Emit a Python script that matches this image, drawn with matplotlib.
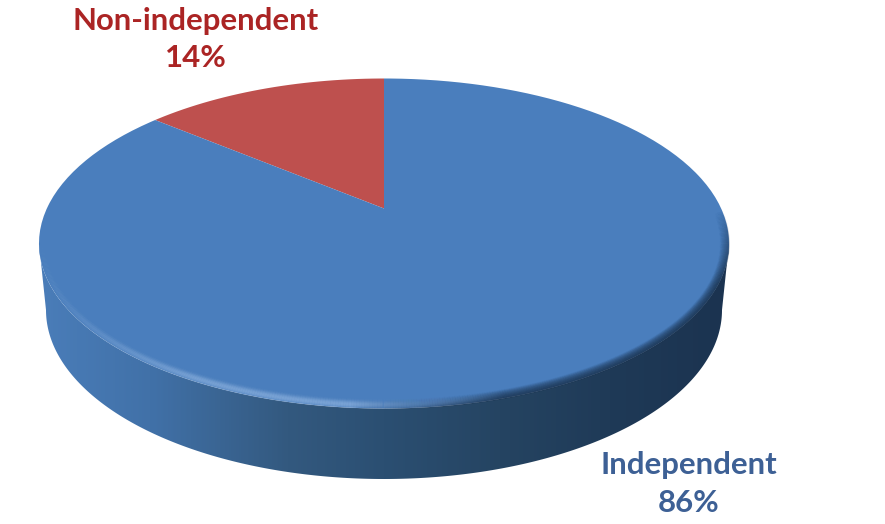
import matplotlib
matplotlib.use('Agg')
import matplotlib.pyplot as plt
import numpy as np
from matplotlib.collections import LineCollection
from matplotlib.colors import LinearSegmentedColormap, to_rgb
from matplotlib.patches import Polygon
from matplotlib.path import Path
from matplotlib.transforms import Transform

plt.rcParams['font.family'] = ['Lato', 'DejaVu Sans']

# Data
labels = ['Non-independent', 'Independent']
values = [14, 86]
slice_colors = ['#BE504E', '#4A7EBD']
label_colors = ['#AB2424', '#3D6095']

W, H = 885, 524

# Geometry of the tilted disc, in pixels
CX = 384
TOP_CY, TOP_RX, TOP_RY = 243.5, 345, 165
BOT_CY, BOT_RX, BOT_RY = 310, 338, 169
TILT = 0.212


class Perspective(Transform):
    # unit circle of the pie -> tilted disc, the centre sits above the middle
    input_dims = 2
    output_dims = 2

    def transform_non_affine(self, values):
        x, y = values[:, 0], values[:, 1]
        w = 1 + TILT * y
        a = TOP_RX * np.sqrt(1 - TILT ** 2)
        b = 130 * (1 + TILT)
        return np.column_stack([CX + a * x / w, 208.5 - b * y / w])

    def transform_path_non_affine(self, path):
        # flatten the arcs first, beziers do not stay exact under perspective
        poly = Path(path.vertices * 500, path.codes).to_polygons(closed_only=True)[0] / 500
        return Path(self.transform_non_affine(poly), closed=True)


fig = plt.figure(figsize=(W / 100, H / 100), dpi=100)
ax = fig.add_axes([0, 0, 1, 1])

# Side wall with horizontal gradient
t = np.linspace(0, np.pi, 300)
wall = np.vstack([
    np.column_stack([CX + TOP_RX * np.cos(t), TOP_CY + TOP_RY * np.sin(t)]),
    np.column_stack([CX + BOT_RX * np.cos(t[::-1]), BOT_CY + BOT_RY * np.sin(t[::-1])]),
])
wall_cmap = LinearSegmentedColormap.from_list('wall', [
    (0.0, '#4A7DB9'), (0.16, '#4171A8'), (0.36, '#33597F'), (0.5, '#2B4F72'),
    (0.67, '#254462'), (0.83, '#1F3A57'), (1.0, '#1B3350'),
])
wall_img = ax.imshow(np.linspace(0, 1, 400).reshape(1, -1), cmap=wall_cmap, aspect='auto',
                     extent=[CX - TOP_RX, CX + TOP_RX, BOT_CY + BOT_RY, TOP_CY], zorder=1)
wall_patch = Polygon(wall, closed=True, transform=ax.transData, facecolor='none', edgecolor='none')
ax.add_patch(wall_patch)
wall_img.set_clip_path(wall_patch)

# Top face
wedges, _ = ax.pie(values, colors=slice_colors, startangle=90, counterclock=True,
                   wedgeprops={'linewidth': 0})
persp = Perspective()
for w in wedges:
    w.set_transform(persp + ax.transData)
    w.set_zorder(2)
    w.set_clip_on(False)

# Bevel along the near rim: light on the left, dark on the right
tb = np.linspace(-0.35, np.pi + 0.35, 500)
tm = (tb[:-1] + tb[1:]) / 2
u = np.cos(tm)
dark_w = np.clip((u + 0.1) / 0.45, 0, 1)
light_w = (1 - dark_w) * np.clip(0.3 + 0.7 * np.sin(tm), 0, 1) * np.clip((u + 1.15) / 0.6, 0.3, 1)
fade = np.clip((np.sin(tm) + 0.2) / 0.45, 0, 1)
dark = np.array(to_rgb('#1C3552'))
light = np.array(to_rgb('#9DBFE8'))
segs, cols = [], []
for d in np.arange(0, 12, 0.5):
    xs = CX + (TOP_RX - d) * np.cos(tb)
    ys = TOP_CY + (TOP_RY - d) * np.sin(tb)
    pts = np.column_stack([xs, ys])
    segs.append(np.stack([pts[:-1], pts[1:]], axis=1))
    a_dark = 0.55 * np.clip(1 - d / 9, 0, 1) * dark_w * fade
    a_light = 0.28 * np.exp(-((d - 3.5) / 3.4) ** 2) * light_w * fade
    mix = a_dark / np.maximum(a_dark + a_light, 1e-6)
    rgb = mix[:, None] * dark + (1 - mix[:, None]) * light
    cols.append(np.column_stack([rgb, np.maximum(a_dark, a_light)]))
ax.add_collection(LineCollection(np.vstack(segs), colors=np.vstack(cols), linewidths=1.0,
                                 capstyle='butt', zorder=3))

# Labels
label_pos = [(196, 39.5), (689, 484)]
for lab, val, col, (lx, ly) in zip(labels, values, label_colors, label_pos):
    ax.text(lx, ly, f'{lab}\n{val}%', color=col, fontsize=22.4, fontweight='bold',
            ha='center', va='center', linespacing=1.4, zorder=4)

ax.set_aspect('auto')
ax.set_xlim(0, W)
ax.set_ylim(H, 0)
ax.axis('off')

fig.savefig('out.png', dpi=100)
